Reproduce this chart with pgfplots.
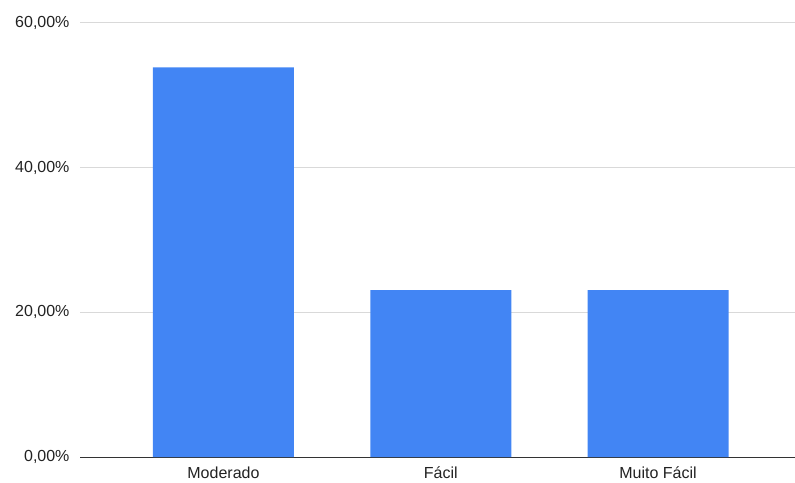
\documentclass[border=0pt]{standalone}
\usepackage{pgfplots}
\pgfplotsset{compat=1.18}
\usepackage{fontspec}
\setmainfont{Liberation Sans}
\definecolor{barblue}{HTML}{4285F4}
\definecolor{gridgray}{HTML}{D9D9D9}
\definecolor{axisdark}{HTML}{333333}
\definecolor{labeltext}{HTML}{222222}
\begin{document}
\begin{tikzpicture}
\path[use as bounding box] (0,0) rectangle (795bp,483bp);
\begin{axis}[
  at={(80bp,26bp)}, anchor=south west,
  scale only axis,
  width=715bp, height=434bp,
  xmin=-0.66, xmax=2.63,
  ymin=0, ymax=60,
  axis x line*=bottom,
  axis y line*=left,
  x axis line style={axisdark, line width=1bp},
  y axis line style={draw=none},
  ybar, bar width=141bp,
  xtick={0,1,2},
  xticklabels={Moderado, Fácil, Muito Fácil},
  ytick={0,20,40,60},
  ymajorgrids, grid style={gridgray, line width=1bp},
  major tick length=0pt,
  tick style={draw=none},
  /pgf/number format/assume math mode=true,
  yticklabel={\pgfmathprintnumber[fixed,fixed zerofill,precision=2,use comma]{\tick}\%},
  ticklabel style={font=\fontsize{16bp}{19bp}\selectfont, text=labeltext},
  yticklabel style={xshift=-7bp},
  xticklabel style={yshift=-6bp},
  clip=false,
]
\addplot[fill=barblue, draw=none] coordinates {(0,53.85) (1,23.08) (2,23.08)};
\end{axis}
\end{tikzpicture}
\end{document}
